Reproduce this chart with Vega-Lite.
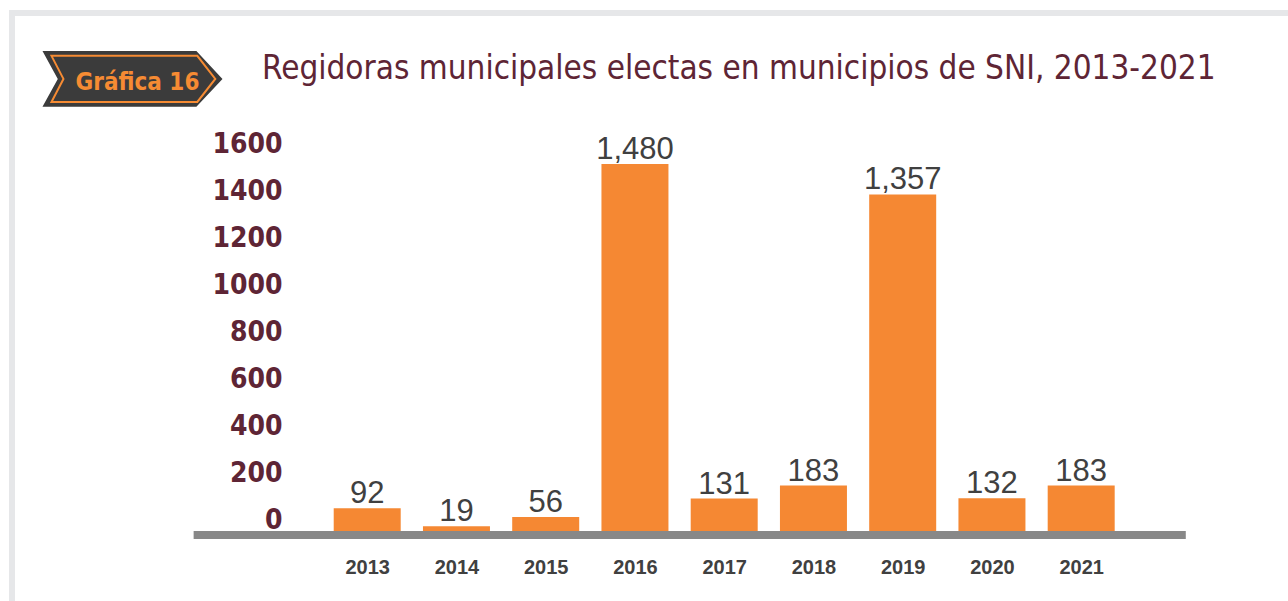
{
  "$schema": "https://vega.github.io/schema/vega-lite/v6.json",
  "width": 1280,
  "height": 592,
  "autosize": {"type": "none"},
  "padding": {"left": 12, "top": 13, "right": -4, "bottom": -4},
  "background": "white",
  "config": {"view": {"stroke": "#e6e7e9", "strokeWidth": 6, "fill": "white"}},
  "title": {
    "text": "Regidoras municipales electas en municipios de SNI, 2013-2021",
    "anchor": "start",
    "frame": "group",
    "orient": "top",
    "offset": -99,
    "dx": 250,
    "font": "DejaVu Sans Condensed, Liberation Sans",
    "fontSize": 33,
    "fontWeight": "normal",
    "color": "#5e2535",
    "baseline": "alphabetic"
  },
  "datasets": {
    "main": [
      {"year": 2013, "value": 92},
      {"year": 2014, "value": 19},
      {"year": 2015, "value": 56},
      {"year": 2016, "value": 1480},
      {"year": 2017, "value": 131},
      {"year": 2018, "value": 183},
      {"year": 2019, "value": 1357},
      {"year": 2020, "value": 132},
      {"year": 2021, "value": 183}
    ],
    "ticks": [{"v": 0}, {"v": 200}, {"v": 400}, {"v": 600}, {"v": 800}, {"v": 1000}, {"v": 1200}, {"v": 1400}, {"v": 1600}],
    "badge": [{"label": "Gráfica 16"}]
  },
  "layer": [
    {
      "layer": [
        {
          "data": {"name": "main"},
          "mark": {"type": "bar", "width": 67, "color": "#f58833"},
          "encoding": {
            "x": {
              "field": "year", "type": "quantitative", "title": null,
              "scale": {"domain": [2009.076, 2023.306], "nice": false, "zero": false},
              "axis": {
                "values": [2013, 2014, 2015, 2016, 2017, 2018, 2019, 2020, 2021],
                "format": "d", "orient": "bottom", "offset": -48,
                "domain": false, "ticks": false, "grid": false,
                "labelPadding": 0, "labelFont": "Liberation Sans", "labelFontWeight": "bold",
                "labelFontSize": 20, "labelColor": "#404040", "title": null,
                "labelFlush": false, "labelOverlap": false, "labelBaseline": "top"
              }
            },
            "y": {
              "field": "value", "type": "quantitative",
              "scale": {"domain": [-298.4, 2088.7], "nice": false, "zero": false},
              "axis": null
            },
            "y2": {"datum": 0}
          }
        },
        {
          "data": {"name": "main"},
          "mark": {"type": "text", "baseline": "alphabetic", "dy": -5, "font": "Liberation Sans", "fontSize": 31, "color": "#404040"},
          "encoding": {
            "x": {
              "field": "year", "type": "quantitative", "title": null,
              "scale": {"domain": [2009.076, 2023.306], "nice": false, "zero": false},
              "axis": {
                "values": [2013, 2014, 2015, 2016, 2017, 2018, 2019, 2020, 2021],
                "format": "d", "orient": "bottom", "offset": -48,
                "domain": false, "ticks": false, "grid": false,
                "labelPadding": 0, "labelFont": "Liberation Sans", "labelFontWeight": "bold",
                "labelFontSize": 20, "labelColor": "#404040", "title": null,
                "labelFlush": false, "labelOverlap": false, "labelBaseline": "top"
              }
            },
            "y": {"field": "value", "type": "quantitative", "scale": {"domain": [-298.4, 2088.7], "nice": false, "zero": false}, "axis": null},
            "text": {"field": "value", "type": "quantitative", "format": ","}
          }
        },
        {
          "data": {"name": "badge"},
          "mark": {"type": "rect", "color": "#888888"},
          "encoding": {
            "x": {
              "datum": 2011.055, "type": "quantitative", "title": null,
              "scale": {"domain": [2009.076, 2023.306], "nice": false, "zero": false},
              "axis": {
                "values": [2013, 2014, 2015, 2016, 2017, 2018, 2019, 2020, 2021],
                "format": "d", "orient": "bottom", "offset": -48,
                "domain": false, "ticks": false, "grid": false,
                "labelPadding": 0, "labelFont": "Liberation Sans", "labelFontWeight": "bold",
                "labelFontSize": 20, "labelColor": "#404040", "title": null,
                "labelFlush": false, "labelOverlap": false, "labelBaseline": "top"
              }
            },
            "x2": {"datum": 2022.172},
            "y": {"datum": 0, "type": "quantitative", "scale": {"domain": [-298.4, 2088.7], "nice": false, "zero": false}, "axis": null},
            "y2": {"datum": -32.3}
          }
        },
        {
          "data": {"name": "badge"},
          "mark": {"type": "point", "shape": "M-1,-0.31L0.71,-0.31L1,0L0.71,0.31L-1,0.31L-0.83,0Z", "size": 32400, "filled": true, "color": "#3b3b3b", "opacity": 1},
          "encoding": {
            "x": {
              "datum": 2010.37, "type": "quantitative", "title": null,
              "scale": {"domain": [2009.076, 2023.306], "nice": false, "zero": false},
              "axis": {
                "values": [2013, 2014, 2015, 2016, 2017, 2018, 2019, 2020, 2021],
                "format": "d", "orient": "bottom", "offset": -48,
                "domain": false, "ticks": false, "grid": false,
                "labelPadding": 0, "labelFont": "Liberation Sans", "labelFontWeight": "bold",
                "labelFontSize": 20, "labelColor": "#404040", "title": null,
                "labelFlush": false, "labelOverlap": false, "labelBaseline": "top"
              }
            },
            "y": {"datum": 1823, "type": "quantitative", "scale": {"domain": [-298.4, 2088.7], "nice": false, "zero": false}, "axis": null}
          }
        },
        {
          "data": {"name": "badge"},
          "mark": {"type": "point", "shape": "M-0.9,-0.256L0.72,-0.256L0.92,0L0.72,0.256L-0.9,0.256L-0.767,0Z", "size": 32400, "filled": false, "color": "#f68b33", "strokeWidth": 2, "opacity": 1},
          "encoding": {
            "x": {
              "datum": 2010.37, "type": "quantitative", "title": null,
              "scale": {"domain": [2009.076, 2023.306], "nice": false, "zero": false},
              "axis": {
                "values": [2013, 2014, 2015, 2016, 2017, 2018, 2019, 2020, 2021],
                "format": "d", "orient": "bottom", "offset": -48,
                "domain": false, "ticks": false, "grid": false,
                "labelPadding": 0, "labelFont": "Liberation Sans", "labelFontWeight": "bold",
                "labelFontSize": 20, "labelColor": "#404040", "title": null,
                "labelFlush": false, "labelOverlap": false, "labelBaseline": "top"
              }
            },
            "y": {"datum": 1823, "type": "quantitative", "scale": {"domain": [-298.4, 2088.7], "nice": false, "zero": false}, "axis": null}
          }
        },
        {
          "data": {"name": "badge"},
          "mark": {"type": "text", "align": "center", "baseline": "alphabetic", "dx": 5, "dy": 11, "font": "DejaVu Sans Condensed", "fontWeight": "bold", "fontSize": 24, "color": "#f68b33"},
          "encoding": {
            "x": {
              "datum": 2010.37, "type": "quantitative", "title": null,
              "scale": {"domain": [2009.076, 2023.306], "nice": false, "zero": false},
              "axis": {
                "values": [2013, 2014, 2015, 2016, 2017, 2018, 2019, 2020, 2021],
                "format": "d", "orient": "bottom", "offset": -48,
                "domain": false, "ticks": false, "grid": false,
                "labelPadding": 0, "labelFont": "Liberation Sans", "labelFontWeight": "bold",
                "labelFontSize": 20, "labelColor": "#404040", "title": null,
                "labelFlush": false, "labelOverlap": false, "labelBaseline": "top"
              }
            },
            "y": {"datum": 1823, "type": "quantitative", "scale": {"domain": [-298.4, 2088.7], "nice": false, "zero": false}, "axis": null},
            "text": {"field": "label", "type": "nominal"}
          }
        }
      ]
    },
    {
      "data": {"name": "ticks"},
      "mark": {"type": "tick", "opacity": 0},
      "encoding": {
        "y": {
          "field": "v", "type": "quantitative",
          "scale": {"domain": [-362.6, 2163], "nice": false, "zero": false},
          "axis": {
            "orient": "left", "offset": -272,
            "values": [0, 200, 400, 600, 800, 1000, 1200, 1400, 1600],
            "format": "d",
            "domain": false, "ticks": false, "grid": false, "title": null,
            "labelPadding": 2, "labelFont": "DejaVu Sans Condensed", "labelFontWeight": "bold",
            "labelFontSize": 28, "labelColor": "#5e2535", "labelBaseline": "middle",
            "labelFlush": false, "labelOverlap": false
          }
        }
      }
    }
  ],
  "resolve": {"scale": {"y": "independent"}, "axis": {"y": "independent"}}
}
